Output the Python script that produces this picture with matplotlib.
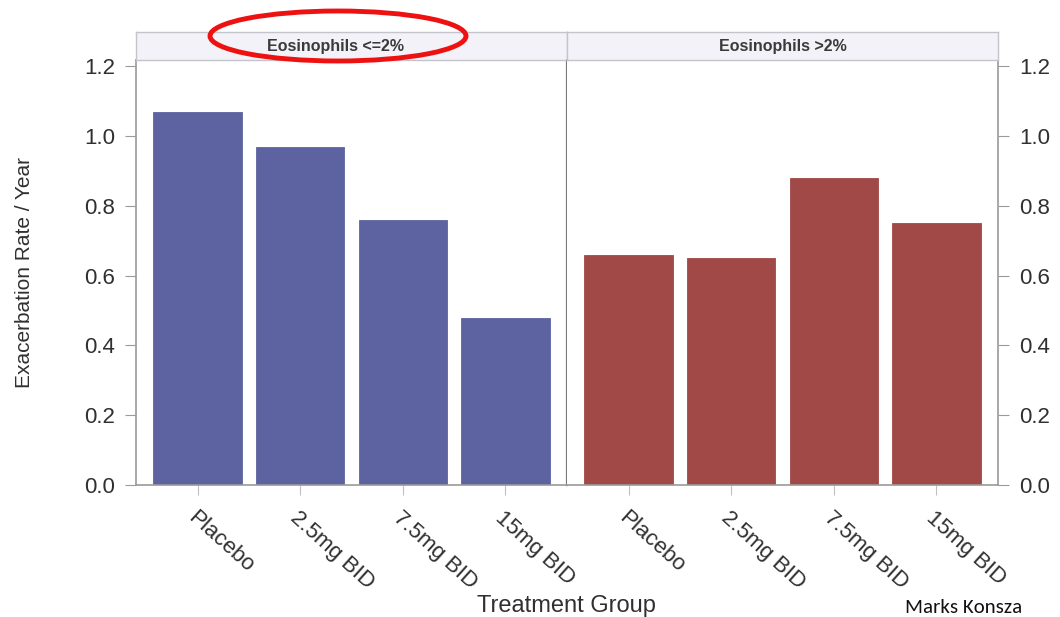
import matplotlib.pyplot as plt
import numpy as np
from matplotlib.patches import Ellipse

plt.rcParams['font.family'] = ['Liberation Sans', 'DejaVu Sans']

groups = ["Placebo", "2.5mg BID", "7.5mg BID", "15mg BID"]
rate_low = [1.07, 0.97, 0.76, 0.48]    # Eosinophils <=2%
rate_high = [0.66, 0.65, 0.88, 0.75]   # Eosinophils >2%
panel_titles = ["Eosinophils <=2%", "Eosinophils >2%"]
yticks = [0.0, 0.2, 0.4, 0.6, 0.8, 1.0, 1.2]

blue = "#5d63a1"
red = "#a14946"
grey = "#9a9a9a"
txt = "#303030"

fig = plt.figure(figsize=(10.6, 6.17), dpi=100)
x = np.arange(len(groups))

left0, bottom, w, h = 136 / 1060, 1 - 485 / 617, 431 / 1060, 425 / 617
title_x = [0.462, 0.5]
for i, (vals, col) in enumerate([(rate_low, blue), (rate_high, red)]):
    ax = fig.add_axes([left0 + i * w, bottom, w, h])
    ax.bar(x, vals, width=0.86, color=col, edgecolor=col, linewidth=0.6)
    ax.set_xlim(-0.6, 3.6)
    ax.set_ylim(0, 1.218)
    ax.set_xticks(x)
    ax.set_xticklabels(groups, rotation=-42, ha='left', va='top',
                       rotation_mode='anchor', fontsize=16, color=txt)
    ax.tick_params(axis='x', length=7, color="#c0c0c0", pad=9)
    ax.set_yticks(yticks)
    for s in ax.spines.values():
        s.set_color(grey)
        s.set_linewidth(1.2)
    ax.set_yticklabels([f"{t:.1f}" for t in yticks], fontsize=16, color=txt)
    ax.tick_params(axis='y', length=8, color=grey, pad=7)
    if i == 0:
        ax.set_ylabel("Exacerbation Rate / Year", fontsize=15, color=txt)
        ax.yaxis.set_label_coords(-0.236, 0.5)
        ax.spines['right'].set_color("#7a7a7a")
        ax.spines['right'].set_linewidth(1.6)
    else:
        ax.yaxis.tick_right()
        ax.spines['left'].set_visible(False)
    # panel header strip
    strip = fig.add_axes([left0 + i * w, 1 - 60 / 617, w, 28 / 617])
    strip.set_facecolor("#f2f2f8")
    strip.set_xticks([])
    strip.set_yticks([])
    for s in strip.spines.values():
        s.set_color("#c4c4cc")
        s.set_linewidth(1.0)
    strip.text(title_x[i], 0.5, panel_titles[i], ha='center', va='center',
               fontsize=11.5, fontweight='bold', color="#3a3a3a")

fig.text(566 / 1060, 1 - 606 / 617, "Treatment Group", ha='center', va='center',
         fontsize=17, color=txt)
fig.text(905 / 1060, 1 / 617, "Marks Konsza", ha='left', va='bottom',
         fontsize=15, color="#111111", family=['Carlito', 'Open Sans', 'Liberation Sans'])

# annotation ellipse around the first panel header
ell = Ellipse((338 / 1060, 1 - 36 / 617), 256 / 1060, 50 / 617,
              transform=fig.transFigure, fill=False, edgecolor="#ee1111", linewidth=3.5)
fig.add_artist(ell)

fig.savefig("out.png", dpi=100)
